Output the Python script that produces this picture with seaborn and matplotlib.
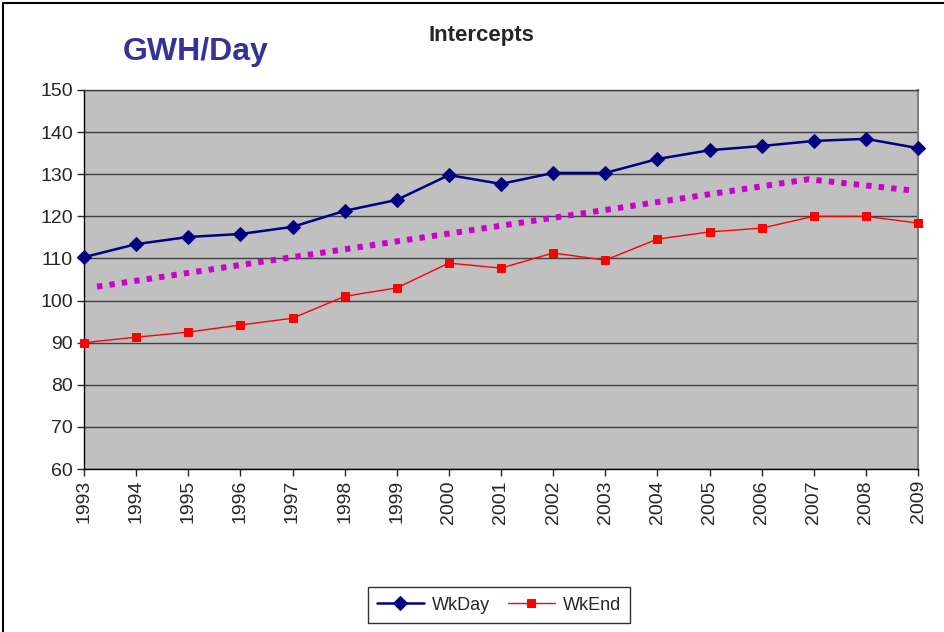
import numpy as np
import pandas as pd
import matplotlib
matplotlib.use("Agg")
import matplotlib.pyplot as plt
import seaborn as sns
from matplotlib.lines import Line2D

# values
years = list(range(1993, 2010))
wkday = [110.3, 113.4, 115.1, 115.8, 117.5, 121.3, 123.9, 129.8, 127.7,
         130.3, 130.3, 133.6, 135.7, 136.7, 137.9, 138.4, 136.2]
wkend = [90.0, 91.3, 92.5, 94.2, 95.8, 101.0, 103.0, 108.9, 107.7,
         111.3, 109.6, 114.6, 116.3, 117.2, 120.0, 120.0, 118.4]
trend_x = [1993.25, 2006.9, 2008.85]
trend_y = [103.3, 128.8, 126.2]

df = pd.DataFrame({"Year": years, "WkDay": wkday, "WkEnd": wkend})

sns.set_style("white")
plt.rcParams["font.family"] = ["Liberation Sans", "DejaVu Sans"]

fig = plt.figure(figsize=(9.44, 6.32), dpi=100)
ax = fig.add_axes([84 / 944, 1 - 469 / 632, (918 - 84) / 944, (469 - 90) / 632])
ax.set_facecolor("#C0C0C0")

# outer chart border (cropped on right/bottom in the reference)
fig.add_artist(Line2D([3 / 944, 3 / 944], [0, 1 - 3 / 632], color="black", lw=1.5))
fig.add_artist(Line2D([3 / 944, 1], [1 - 3 / 632, 1 - 3 / 632], color="black", lw=1.5))

ax.yaxis.grid(True, color="#404040", lw=1)
ax.set_axisbelow(True)

# trend line
ax.plot(trend_x, trend_y, color="#CC00CC", lw=4.3, ls=(0, (0.9, 1.2)),
        solid_capstyle="butt", dash_capstyle="butt", zorder=2)

sns.lineplot(data=df, x="Year", y="WkDay", ax=ax, color="#000080", lw=1.8,
             marker="D", markersize=7.5, markeredgecolor="#000080",
             label="WkDay", clip_on=False, zorder=3)
sns.lineplot(data=df, x="Year", y="WkEnd", ax=ax, color="#FF0000", lw=1,
             marker="s", markersize=6, markeredgecolor="#FF0000",
             label="WkEnd", clip_on=False, zorder=3)

ax.set_xlim(1993, 2009)
ax.set_ylim(60, 150)
ax.set_xticks(years)
ax.set_xticklabels([str(y) for y in years], rotation=90, fontsize=14)
ax.set_yticks(range(60, 151, 10))
ax.tick_params(axis="y", labelsize=14, length=5, width=1, direction="out", left=True, pad=3)
ax.tick_params(axis="x", length=5, width=1, direction="out", bottom=True, pad=3)
ax.set_xlabel("")
ax.set_ylabel("")

for s in ["left", "bottom"]:
    ax.spines[s].set_color("black")
    ax.spines[s].set_linewidth(1)
ax.spines["right"].set_color("#808080")
ax.spines["right"].set_linewidth(1.5)
ax.spines["top"].set_color("#404040")
ax.spines["top"].set_linewidth(1)

fig.text(481 / 944, 1 - 36 / 632, "Intercepts", ha="center", va="center",
         fontsize=16, fontweight="bold")
fig.text(123 / 944, 1 - 52 / 632, "GWH/Day", ha="left", va="center",
         fontsize=23, fontweight="bold", color="#333399")

leg = ax.legend(loc="center", bbox_to_anchor=(499 / 944, 1 - 605 / 632),
                bbox_transform=fig.transFigure, ncol=2, fontsize=13, frameon=True,
                fancybox=False, edgecolor="black", handlelength=2.6,
                columnspacing=1.0, handletextpad=0.45, borderpad=0.5)
leg.get_frame().set_linewidth(1)

fig.savefig("out.png", dpi=100)
